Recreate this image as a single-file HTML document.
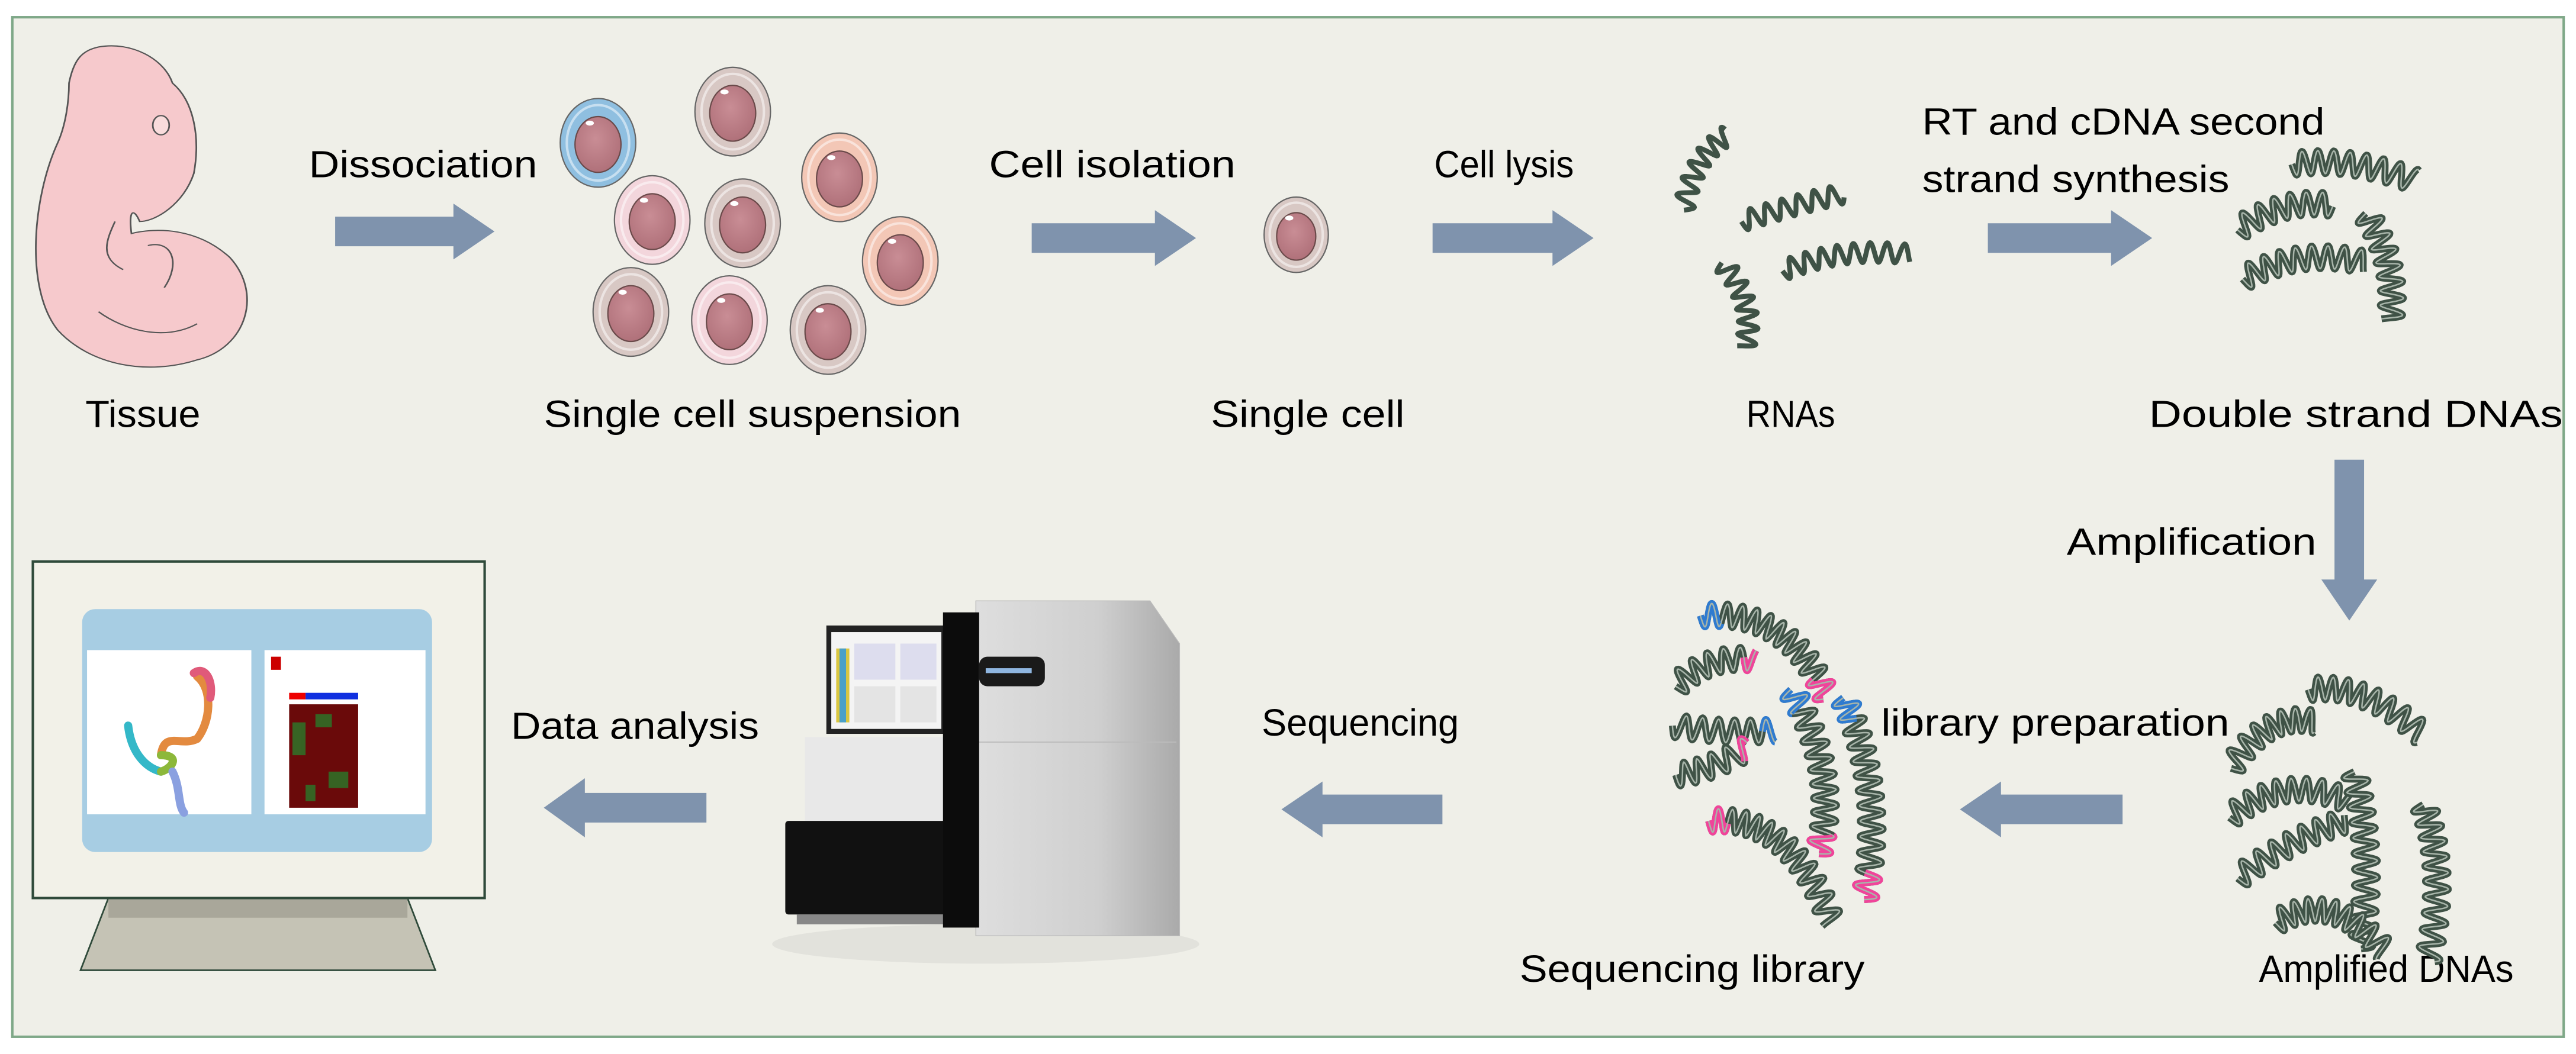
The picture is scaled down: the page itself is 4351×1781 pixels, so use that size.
<!DOCTYPE html>
<html><head><meta charset="utf-8"><style>
html,body{margin:0;padding:0;background:#fff;}
svg{display:block}
text{font-family:"Liberation Sans Narrow","Liberation Sans",sans-serif;font-size:23px;fill:#000}
</style></head><body>
<svg id="s" width="4351" height="1781" viewBox="0 0 1568 642" preserveAspectRatio="none" xmlns="http://www.w3.org/2000/svg">
<defs>
<radialGradient id="nuc" cx="45%" cy="40%" r="60%"><stop offset="0" stop-color="#c98d95"/><stop offset="1" stop-color="#b0717a"/></radialGradient>
<linearGradient id="body" x1="0" x2="1"><stop offset="0" stop-color="#dedede"/><stop offset="0.6" stop-color="#cfcfcf"/><stop offset="1" stop-color="#aaaaaa"/></linearGradient>
</defs>
<rect x="0" y="0" width="1568" height="642" fill="#fff"/>
<rect x="7.5" y="10.5" width="1553" height="621" fill="#efefe8" stroke="#7fa888" stroke-width="1.5"/>

<!-- embryo -->
<g stroke="#555" stroke-width="1" fill="#f6c9cc" transform="translate(0,10.3) scale(1,0.733)">
<path d="M60,25 C80,20 100,35 105,55 C118,70 122,100 118,130 C112,155 95,170 85,170 C82,160 78,158 80,180 C95,175 120,175 140,200 C160,230 150,275 120,285 C90,298 55,290 35,260 C15,225 20,150 35,105 C40,90 42,70 42,55 C45,35 50,28 60,25 Z"/>
<path d="M70,170 C65,185 60,200 75,210 M90,190 C105,185 110,205 100,225 M60,245 C75,260 100,270 120,255" fill="none"/>
<ellipse cx="98" cy="90" rx="5" ry="8" fill="#f9dcdc"/>
</g>
<text x="52" y="260" textLength="70" lengthAdjust="spacingAndGlyphs">Tissue</text>

<g id="cells"></g>
<text x="188" y="108" textLength="139" lengthAdjust="spacingAndGlyphs">Dissociation</text>
<text x="331" y="260" textLength="254" lengthAdjust="spacingAndGlyphs">Single cell suspension</text>
<text x="602" y="108" textLength="150" lengthAdjust="spacingAndGlyphs">Cell isolation</text>
<text x="737" y="260" textLength="118" lengthAdjust="spacingAndGlyphs">Single cell</text>
<text x="873" y="108" textLength="85" lengthAdjust="spacingAndGlyphs">Cell lysis</text>
<text x="1063" y="260" textLength="54" lengthAdjust="spacingAndGlyphs">RNAs</text>
<text x="1170" y="82" textLength="245" lengthAdjust="spacingAndGlyphs">RT and cDNA second</text>
<text x="1170" y="117" textLength="187" lengthAdjust="spacingAndGlyphs">strand synthesis</text>
<text x="1308" y="260" textLength="252" lengthAdjust="spacingAndGlyphs">Double strand DNAs</text>
<text x="1258" y="338" textLength="152" lengthAdjust="spacingAndGlyphs">Amplification</text>
<text x="1145" y="448" textLength="212" lengthAdjust="spacingAndGlyphs">library preparation</text>
<text x="768" y="448" textLength="120" lengthAdjust="spacingAndGlyphs">Sequencing</text>
<text x="311" y="450" textLength="151" lengthAdjust="spacingAndGlyphs">Data analysis</text>
<text x="925" y="598" textLength="210" lengthAdjust="spacingAndGlyphs">Sequencing library</text>
<text x="1375" y="598" textLength="155" lengthAdjust="spacingAndGlyphs">Amplified DNAs</text>

<g fill="#7f93ad">
<path d="M204,132 H276 V124 L301,141 L276,158 V150 H204 Z"/>
<path d="M628,136 H703 V128 L728,145 L703,162 V154 H628 Z"/>
<path d="M872,136 H945 V128 L970,145 L945,162 V154 H872 Z"/>
<path d="M1210,136 H1285 V128 L1310,145 L1285,162 V154 H1210 Z"/>
<path d="M1421,280 V353 H1413 L1430,378 L1447,353 H1439 V280 Z"/>
<path d="M1292,484 H1218 V476 L1193,493 L1218,510 V502 H1292 Z"/>
<path d="M878,484 H805 V476 L780,493 L805,510 V502 H878 Z"/>
<path d="M430,483 H356 V474 L331,492 L356,510 V501 H430 Z"/>
</g>

<g id="dna"></g>

<!-- sequencer -->
<g>
<ellipse cx="600" cy="575" rx="130" ry="12" fill="#e2e2dc"/>
<path d="M594,366 L700,366 L718,392 L718,570 L594,570 Z" fill="url(#body)" stroke="#bbb" stroke-width="0.5"/>
<line x1="596" y1="452" x2="716" y2="452" stroke="#bbb" stroke-width="0.7"/>
<rect x="490" y="449" width="85" height="52" fill="#e8e8e8"/>
<rect x="478" y="500" width="98" height="57" fill="#111" rx="2"/>
<rect x="485" y="557" width="90" height="6" fill="#888"/>
<rect x="503" y="381" width="72" height="66" fill="#222"/>
<rect x="506" y="385" width="67" height="59" fill="#f4f4f4"/>
<rect x="509" y="395" width="8" height="45" fill="#d9c640"/>
<rect x="511" y="395" width="4" height="45" fill="#4aa0c8"/>
<rect x="520" y="392" width="25" height="22" fill="#dde" /><rect x="548" y="392" width="22" height="22" fill="#dde"/>
<rect x="520" y="418" width="25" height="22" fill="#e4e4e4"/><rect x="548" y="418" width="22" height="22" fill="#e4e4e4"/>
<rect x="574" y="373" width="22" height="192" fill="#0c0c0c"/>
<rect x="596" y="400" width="40" height="18" rx="5" fill="#1a1a1a"/>
<rect x="600" y="407" width="28" height="3" fill="#8fb6e0"/>
</g>

<!-- monitor -->
<g>
<path d="M66,547 L248,547 L265,591 L49,591 Z" fill="#c5c3b5" stroke="#2f4a3a" stroke-width="1"/>
<rect x="66" y="547" width="182" height="12" fill="#a9a79a"/>
<rect x="20" y="342" width="275" height="205" fill="#f2f1e8" stroke="#2f4a3a" stroke-width="1.5"/>
<rect x="50" y="371" width="213" height="148" rx="8" fill="#a7cde3"/>
<rect x="53" y="396" width="100" height="100" fill="#fff"/>
<rect x="161" y="396" width="98" height="100" fill="#fff"/>
<rect x="176" y="429" width="42" height="63" fill="#6a0a0a"/>
<rect x="176" y="422" width="10" height="4" fill="#e00"/><rect x="186" y="422" width="32" height="4" fill="#1030e0"/>
<g fill="#2a7a2a" opacity="0.8"><rect x="178" y="440" width="8" height="20"/><rect x="192" y="435" width="10" height="8"/><rect x="200" y="470" width="12" height="10"/><rect x="186" y="478" width="6" height="10"/></g>
<rect x="165" y="400" width="6" height="8" fill="#c00"/>
<g fill="none" stroke-width="5" stroke-linecap="round">
<path d="M120,412 C130,420 128,440 120,450 C110,455 100,445 98,460" stroke="#e38a3f"/>
<path d="M78,442 C80,460 90,468 98,470" stroke="#34b8c8"/>
<path d="M98,470 C105,468 110,460 98,460" stroke="#8cb83a"/>
<path d="M105,470 C110,480 108,490 112,495" stroke="#8aa0e0"/>
<path d="M118,410 C125,405 130,415 128,425" stroke="#e05a7a"/>
</g>
</g>
</svg>
<script>
var ns="http://www.w3.org/2000/svg";
function el(p,t,a){var e=document.createElementNS(ns,t);for(var k in a)e.setAttribute(k,a[k]);p.appendChild(e);return e;}
var C=document.getElementById("cells");
var cells=[[364,87,"#8fbfe0"],[446,68,"#d8c8c4"],[511,108,"#f3c7b6"],[397,134,"#f3d6dc"],[452,136,"#d8c8c4"],[548,159,"#f3c7b6"],[384,190,"#d8c8c4"],[444,195,"#f3d6dc"],[504,201,"#d8c8c4"],[789,143,"#d8c8c4"]];
cells.forEach(function(c){
 var s=c[0]==789?0.85:1;
 el(C,"ellipse",{cx:c[0],cy:c[1],rx:23*s,ry:27*s,fill:c[2],stroke:"#666","stroke-width":0.8});
 el(C,"ellipse",{cx:c[0],cy:c[1],rx:19*s,ry:23*s,fill:"none",stroke:"#fff","stroke-opacity":0.5,"stroke-width":1.5});
 el(C,"ellipse",{cx:c[0],cy:c[1]+1,rx:14*s,ry:17*s,fill:"url(#nuc)",stroke:"#6a4a4a","stroke-width":0.8});
 el(C,"ellipse",{cx:c[0]-5*s,cy:c[1]-12*s,rx:2.5,ry:1.5,fill:"#fff"});
});
var D=document.getElementById("dna");
function helix(x0,y0,cx,cy,x1,y1,amp,col,dbl,t0,t1){
 t0=t0||0;t1=t1===undefined?1:t1;
 var L=Math.hypot(cx-x0,cy-y0)+Math.hypot(x1-cx,y1-cy);
 var waves=L/10,N=Math.ceil(L*2);
 function pts(ph){var s="";for(var i=0;i<=N;i++){var t=t0+(t1-t0)*i/N;var u=1-t;
  var x=u*u*x0+2*u*t*cx+t*t*x1,y=u*u*y0+2*u*t*cy+t*t*y1;
  var dx=2*u*(cx-x0)+2*t*(x1-cx),dy=2*u*(cy-y0)+2*t*(y1-cy);var l=Math.hypot(dx,dy)||1;
  var o=amp*Math.sin(2*Math.PI*waves*t+ph);
  s+=(i?"L":"M")+(x-dy/l*o).toFixed(2)+","+(y+dx/l*o).toFixed(2);}return s;}
 el(D,"path",{d:pts(0),fill:"none",stroke:col,"stroke-width":dbl?4.2:3,"stroke-linejoin":"round"});
 if(dbl){el(D,"path",{d:pts(0),fill:"none",stroke:"#a8b5aa","stroke-width":0.9});}
}
var G="#3f5246";
// RNAs
helix(1025,128,1030,95,1052,82,6,G,false);
helix(1060,135,1090,125,1122,118,6,G,false);
helix(1085,165,1120,150,1163,155,6,G,false);
helix(1048,160,1070,185,1062,212,6,G,false);
// ds DNAs
helix(1395,100,1430,95,1470,110,7,G,true);
helix(1362,140,1390,120,1420,125,7,G,true);
helix(1365,170,1400,150,1440,160,7,G,true);
helix(1440,130,1460,160,1455,195,7,G,true);
// amplified
helix(1405,420,1440,415,1475,448,7,G,true);
helix(1358,468,1380,432,1410,440,7,G,true);
helix(1357,498,1390,470,1430,488,7,G,true);
helix(1433,470,1445,520,1437,578,7,G,true);
helix(1475,490,1490,530,1478,585,7,G,true);
helix(1362,535,1395,510,1428,500,7,G,true);
helix(1385,562,1420,540,1452,580,7,G,true);
// sequencing library
function lib(x0,y0,cx,cy,x1,y1,sc,ec){
 helix(x0,y0,cx,cy,x1,y1,7,G,true);
 if(sc)helix(x0,y0,cx,cy,x1,y1,7,sc,true,0,0.12);
 if(ec)helix(x0,y0,cx,cy,x1,y1,7,ec,true,0.88,1);
}
var B="#2f7bd0",P="#f0449a";
lib(1035,375,1090,370,1112,425,B,P);
lib(1020,418,1040,398,1068,402,null,P);
lib(1018,442,1050,447,1080,445,null,B);
lib(1020,472,1040,470,1065,455,null,P);
lib(1040,500,1090,495,1115,562,P,null);
lib(1090,420,1120,470,1107,520,B,P);
lib(1122,425,1148,480,1135,548,B,P);
</script>
</body></html>
